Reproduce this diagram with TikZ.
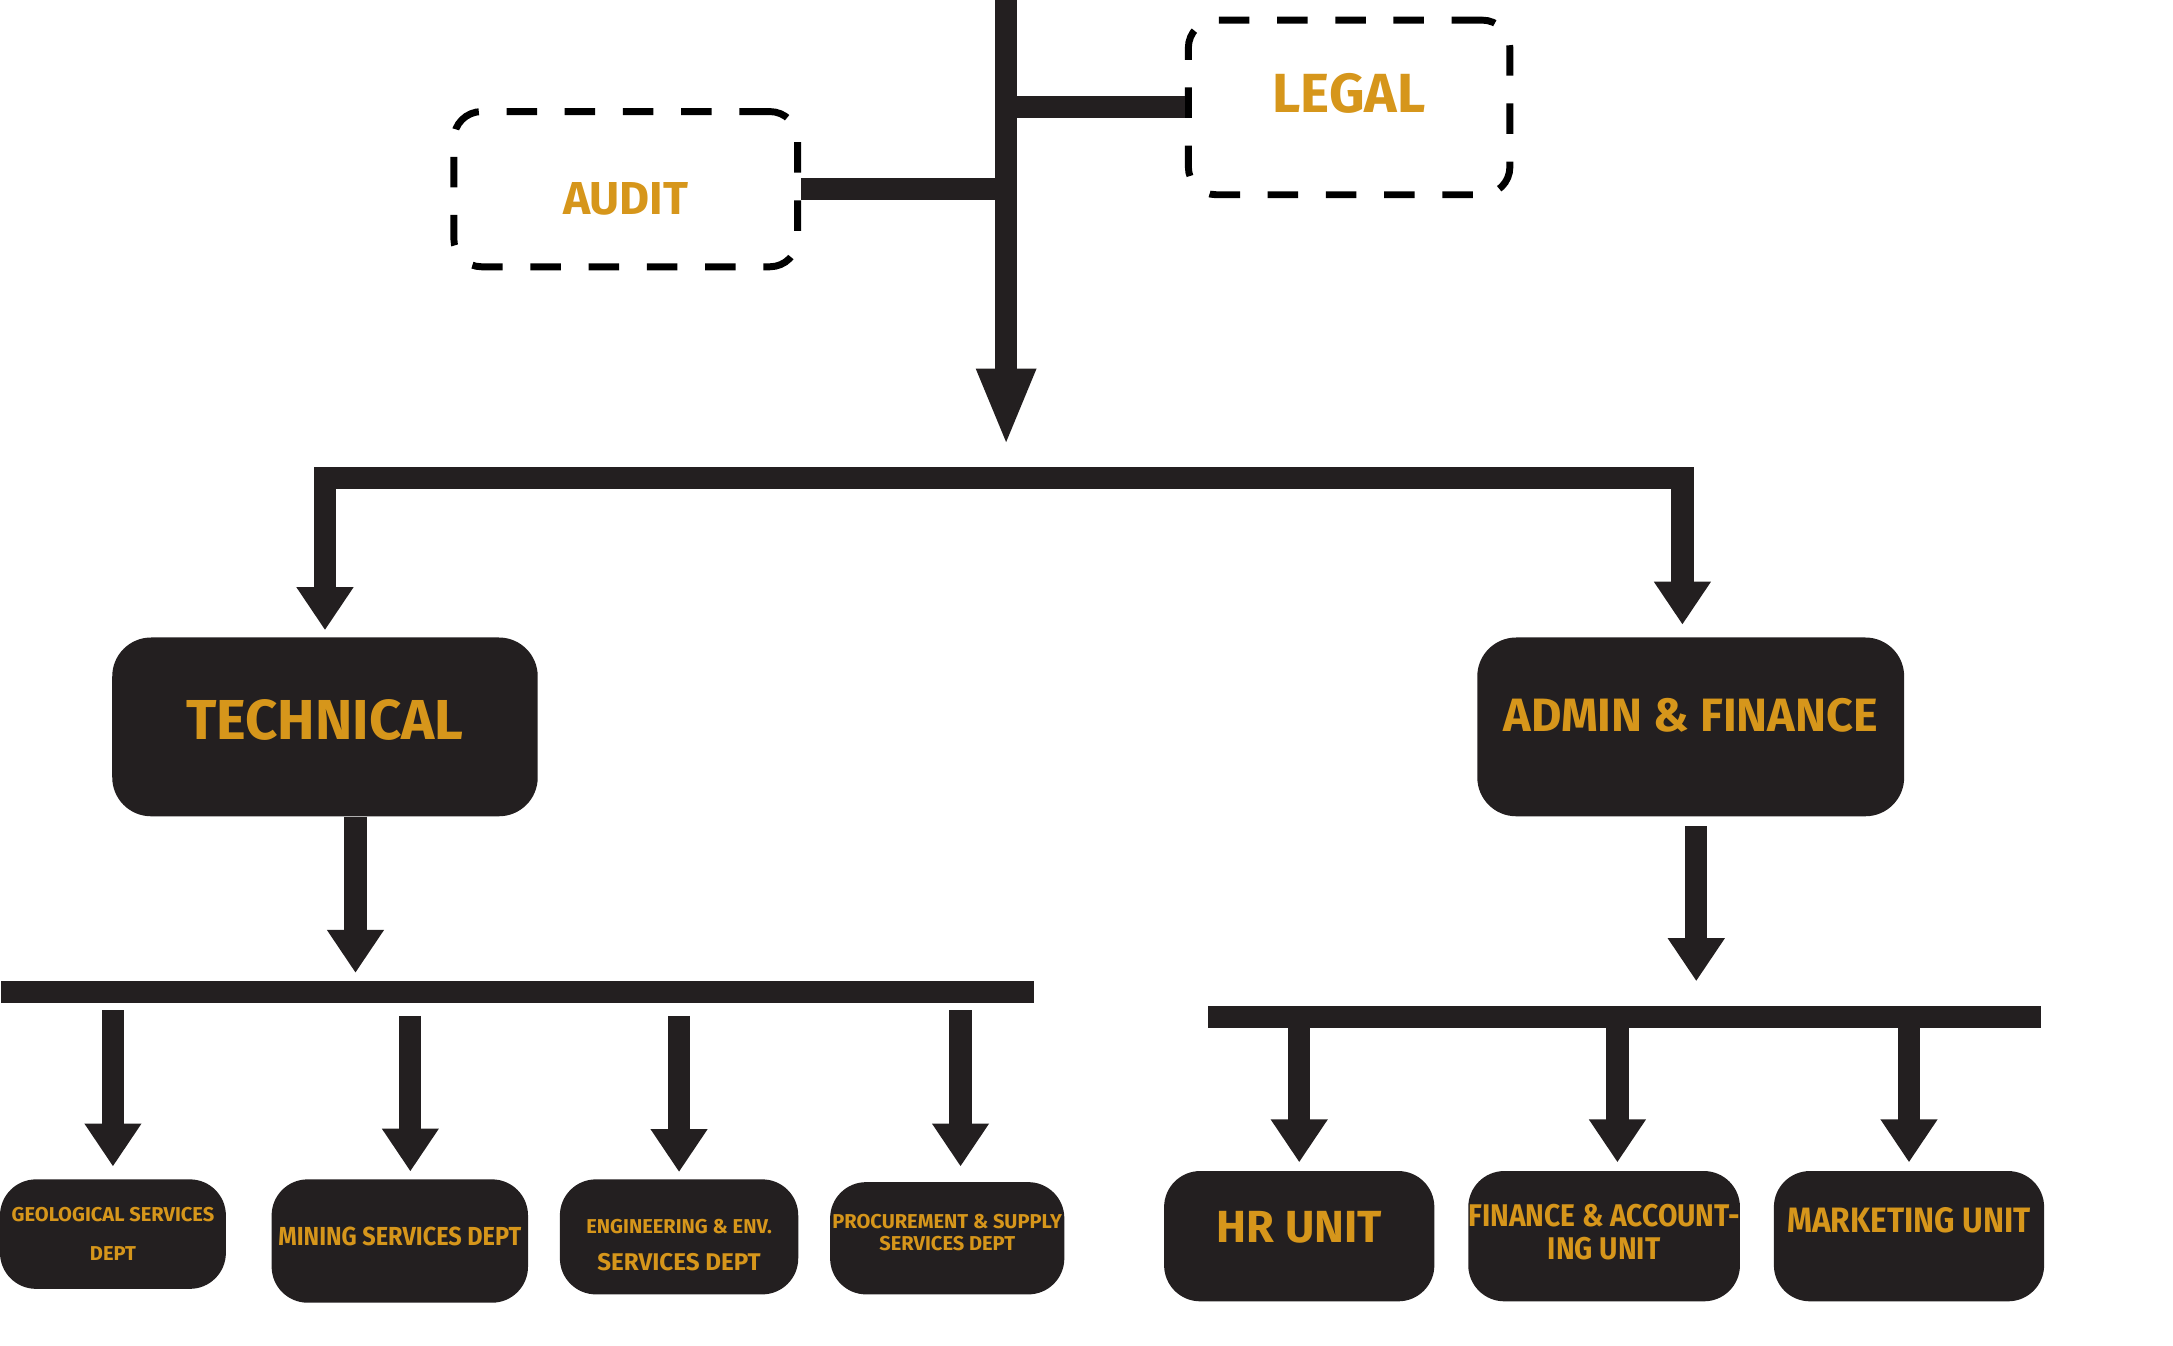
\documentclass[tikz,border=0pt]{standalone}
\usepackage{fontspec}
\setmainfont{Fira Sans}
\newfontfamily\condensed{Fira Sans}[FakeStretch=0.9]
\usepackage{xcolor}
\usepackage{tikz}
\usetikzlibrary{positioning, arrows.meta}
\definecolor{boxdark}{RGB}{35,31,32}
\definecolor{gold}{RGB}{214,150,27}

\begin{document}
\begin{tikzpicture}[x=0.25mm, y=-0.25mm,
    unitbox/.style={rectangle, rounded corners=6.5mm, fill=boxdark, text=gold, align=center, inner sep=0pt},
    dashbox/.style={rectangle, rounded corners=5mm, draw=black, line width=1.25mm, dash pattern=on 5.5mm off 5mm, text=gold, inner sep=0pt},
    bar/.style={draw=boxdark, line width=4mm},
    link/.style={draw=boxdark, line width=4mm, line join=miter, -{Triangle[width=9.75mm, length=7.75mm]}}]

    \useasboundingbox (0,0) rectangle (1568,971);

    % --- Staff units ---
    \node[dashbox, minimum width=62mm, minimum height=28mm, font=\bfseries\fontsize{23.7}{28}\selectfont, text height=9mm, text depth=0pt] (audit) at (451.5,136.5) {AUDIT};
    \node[dashbox, minimum width=58mm, minimum height=31.5mm, font=\bfseries\fontsize{28.3}{34}\selectfont, text depth=5.25mm] (legal) at (973.5,77.5) {LEGAL};

    % --- Divisions ---
    \node[unitbox, rounded corners=7mm, minimum width=76.75mm, minimum height=32.25mm, font=\bfseries\fontsize{28.9}{34}\selectfont, text depth=2.75mm] (technical) at (234.5,524.5) {TECHNICAL};
    \node[unitbox, rounded corners=7mm, minimum width=77mm, minimum height=32.25mm, font=\bfseries\fontsize{24}{29}\selectfont, text depth=4.25mm] (admin) at (1220,524.5) {ADMIN \& FINANCE};

    % --- Technical departments ---
    \node[unitbox, minimum width=40.75mm, minimum height=19.75mm, font=\bfseries\fontsize{10.3}{19.9}\selectfont] (geo) at (81.5,890.5) {GEOLOGICAL SERVICES\\DEPT};
    \node[unitbox, minimum width=46.25mm, minimum height=22.25mm, font=\condensed\bfseries\fontsize{13.4}{16}\selectfont, text depth=1.75mm] (mining) at (288.5,895.5) {MINING SERVICES DEPT};
    \node[unitbox, minimum width=43mm, minimum height=20.75mm, font=\bfseries\fontsize{10.3}{19.2}\selectfont, text height=35pt, text depth=0pt] (eng) at (490,892.5) {ENGINEERING \& ENV.\\{\fontsize{12.4}{19.2}\selectfont SERVICES DEPT}};
    \node[unitbox, minimum width=42.25mm, minimum height=20.25mm, font=\bfseries\fontsize{10.3}{11.4}\selectfont, text depth=2.25mm] (proc) at (683.5,893.5) {PROCUREMENT \& SUPPLY\\SERVICES DEPT};

    % --- Admin & finance units ---
    \node[unitbox, minimum width=48.75mm, minimum height=23.5mm, font=\bfseries\fontsize{23.1}{28}\selectfont, text depth=3.5mm] (hr) at (937.5,892) {HR UNIT};
    \node[unitbox, minimum width=48.75mm, minimum height=23.5mm, font=\condensed\bfseries\fontsize{16.1}{17.1}\selectfont, text depth=1.5mm] (fin) at (1157.5,892) {FINANCE \& ACCOUNT-\\ING UNIT};
    \node[unitbox, minimum width=48.75mm, minimum height=23.5mm, font=\condensed\bfseries\fontsize{18.1}{21}\selectfont, text depth=6mm] (mkt) at (1377.5,892) {MARKETING UNIT};

    % --- Trunk and buses ---
    \coordinate (top) at (726,-5);
    \coordinate (hub) at (726,322);
    \coordinate (split) at (726,345);
    \coordinate (techL) at (1,716);
    \coordinate (techR) at (746,716);
    \coordinate (admL) at (872,734);
    \coordinate (admR) at (1473,734);

    % Main line down from the top
    \draw[link, -{Triangle[width=9.75mm, length=14mm]}] (top) -- (hub);
    % Audit and legal tie-ins
    \draw[bar] (audit.east) -- (audit.east -| top);
    \draw[bar] (legal.west -| top) -- (legal.west);

    % --- Top branch ---
    \draw[link, shorten >=1.25mm] (split) -| (technical);
    \draw[link, shorten >=2.25mm] ([xshift=-1.5mm]split) -| ([xshift=-1.5mm]admin.north);

    % --- Technical bus ---
    \draw[link, shorten >=3.5mm] ([xshift=5.5mm]technical.south) -- ([xshift=5.5mm]technical.south |- techL);
    \draw[bar] (techL) -- (techR);
    \draw[link, shorten <=3.25mm, shorten >=2.25mm] (geo.north |- techL) -- (geo);
    \draw[link, shorten <=4.25mm, shorten >=1.35mm] ([xshift=1.9mm]mining.north |- techL) -- ([xshift=1.9mm]mining.north);
    \draw[link, shorten <=4.25mm, shorten >=1.25mm] (eng.north |- techL) -- (eng);
    \draw[link, shorten <=3.25mm, shorten >=2.75mm] ([xshift=2.4mm]proc.north |- techL) -- ([xshift=2.4mm]proc.north);

    % --- Admin bus ---
    \draw[link, shorten <=1.75mm, shorten >=6.5mm] ([xshift=1mm]admin.south) -- ([xshift=1mm]admin.south |- admL);
    \draw[bar] (admL) -- (admR);
    \draw[link, shorten >=1.5mm] (hr.north |- admL) -- (hr);
    \draw[link, shorten >=1.5mm] ([xshift=2.4mm]fin.north |- admL) -- ([xshift=2.4mm]fin.north);
    \draw[link, shorten >=1.5mm] (mkt.north |- admL) -- (mkt);

\end{tikzpicture}
\end{document}
